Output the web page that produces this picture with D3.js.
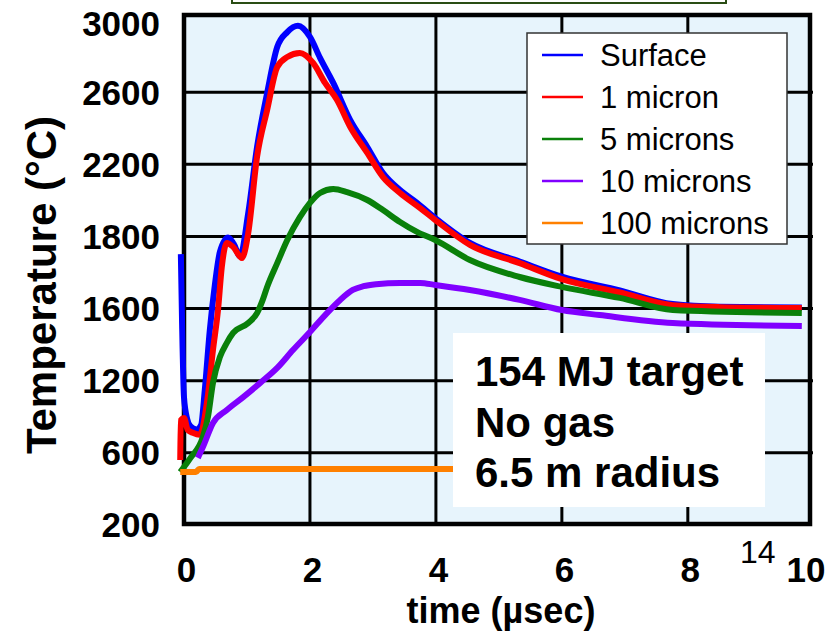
<!DOCTYPE html>
<html>
<head>
<meta charset="utf-8">
<script src="https://cdn.jsdelivr.net/npm/d3@7"></script>
<style>
  html, body { margin: 0; padding: 0; background: #ffffff; }
  svg { display: block; }
  text { font-family: "Liberation Sans", Arial, Helvetica, sans-serif; }
</style>
</head>
<body>
<svg id="chart" width="838" height="632"></svg>
<script>
// ---------------- data ----------------
const xTickValues = [0, 2, 4, 6, 8, 10];
const xTickLabels = ["0", "2", "4", "6", "8", "10"];
const yTickValues = [200, 600, 1000, 1400, 1800, 2200, 2600, 3000];
const yTickLabels = ["200", "600", "1200", "1600", "1800", "2200", "2600", "3000"];

const seriesNames = ["Surface", "1 micron", "5 microns", "10 microns", "100 microns"];
const seriesColors = ["#0000ff", "#ff0000", "#0a800a", "#8000ff", "#ff8000"];

// [time (µsec), temperature (°C)]
const surface = [
  [-0.05, 1702], [-0.03, 1310], [0.0, 908], [0.05, 788], [0.1, 748], [0.2, 730], [0.27, 753],
  [0.33, 948], [0.41, 1281], [0.49, 1531], [0.57, 1714], [0.70, 1794], [0.79, 1758],
  [0.89, 1691], [1.02, 1930], [1.16, 2296], [1.32, 2595], [1.48, 2850], [1.64, 2933],
  [1.81, 2968], [2.0, 2906], [2.16, 2790], [2.37, 2651], [2.64, 2445], [2.91, 2296],
  [3.16, 2151], [3.43, 2057], [3.70, 1986], [3.99, 1902], [4.54, 1764], [5.33, 1661],
  [6.0, 1577], [6.92, 1501], [7.76, 1425], [8.5, 1410], [9.81, 1406]
];
const micron1 = [
  [-0.06, 560], [-0.05, 782], [0.0, 793], [0.06, 727], [0.14, 711], [0.25, 700],
  [0.37, 893], [0.46, 1170], [0.54, 1392], [0.60, 1630], [0.68, 1764], [0.78, 1742],
  [0.92, 1680], [1.02, 1819], [1.16, 2241], [1.32, 2501], [1.48, 2739], [1.64, 2795],
  [1.84, 2817], [2.05, 2762], [2.24, 2651], [2.43, 2557], [2.64, 2407], [2.91, 2263],
  [3.16, 2129], [3.43, 2041], [3.75, 1957], [3.99, 1891], [4.54, 1753], [5.33, 1652],
  [6.0, 1563], [6.92, 1489], [7.76, 1419], [8.5, 1408], [9.81, 1403]
];
const microns5 = [
  [-0.06, 494], [0.1, 571], [0.3, 688], [0.38, 799], [0.46, 988], [0.57, 1131],
  [0.68, 1210], [0.78, 1265], [1.02, 1320], [1.16, 1375], [1.25, 1448], [1.32, 1520],
  [1.48, 1652], [1.64, 1780], [1.84, 1907], [2.0, 1986], [2.16, 2041], [2.37, 2063],
  [2.59, 2046], [2.91, 2002], [3.16, 1946], [3.43, 1880], [3.70, 1825], [3.99, 1780],
  [4.54, 1669], [5.33, 1575], [6.0, 1520], [6.92, 1459], [7.76, 1392], [9.81, 1375]
];
const microns10 = [
  [0.22, 572], [0.30, 632], [0.46, 766], [0.68, 838], [0.94, 909], [1.21, 988],
  [1.48, 1071], [1.73, 1170], [2.0, 1270], [2.27, 1375], [2.48, 1448], [2.68, 1503],
  [2.85, 1524], [3.05, 1535], [3.43, 1542], [3.75, 1542], [3.99, 1531], [4.54, 1503],
  [5.33, 1448], [6.0, 1392], [6.6, 1364], [7.76, 1320], [9.81, 1303]
];
const microns100 = [
  [-0.06, 494], [0.19, 494], [0.24, 511], [7.0, 511]
];
const allSeries = [surface, micron1, microns5, microns10, microns100];

// ---------------- layout ----------------
const svg = d3.select("#chart");
const pLeft = 184, pRight = 810, pTop = 15, pBottom = 524;

const x = d3.scaleLinear().domain([0, 9.94]).range([pLeft, pRight]);
const y = d3.scaleLinear().domain([200, 3000]).range([525, 20]);

// top partial box
svg.append("rect")
  .attr("x", 232).attr("y", -20).attr("width", 494).attr("height", 23)
  .attr("fill", "#ffffff").attr("stroke", "#2a4d14").attr("stroke-width", 2);

// plot background
svg.append("rect")
  .attr("x", pLeft).attr("y", pTop).attr("width", pRight - pLeft).attr("height", pBottom - pTop)
  .attr("fill", "#e7f4fc");

// gridlines
const grid = svg.append("g");
grid.selectAll("line.v")
  .data(xTickValues.filter(v => v > 0 && v < 10))
  .join("line")
  .attr("class", "v")
  .attr("x1", d => x(d)).attr("x2", d => x(d))
  .attr("y1", pTop).attr("y2", pBottom)
  .attr("stroke", "#000").attr("stroke-width", 3);
grid.selectAll("line.h")
  .data(yTickValues.filter(v => v > 200 && v < 3000))
  .join("line")
  .attr("class", "h")
  .attr("x1", pLeft).attr("x2", pRight + 3)
  .attr("y1", d => y(d)).attr("y2", d => y(d))
  .attr("stroke", "#000").attr("stroke-width", 3);

// frame
svg.append("rect")
  .attr("x", pLeft).attr("y", pTop).attr("width", pRight - pLeft).attr("height", pBottom - pTop)
  .attr("fill", "none").attr("stroke", "#000").attr("stroke-width", 4.5);

// axes (labels only)
const yAxis = d3.axisLeft(y)
  .tickValues(yTickValues)
  .tickFormat((d, i) => yTickLabels[i])
  .tickSize(0).tickPadding(24);
const gy = svg.append("g").attr("transform", `translate(${pLeft},0)`).call(yAxis);
gy.select(".domain").remove();
gy.selectAll("text")
  .attr("dy", d => d === 3000 ? "0.45em" : "0.34em")
  .attr("font-size", 35).attr("font-weight", "bold").attr("fill", "#000")
  .attr("font-family", "Liberation Sans, Arial, sans-serif");

const xAxis = d3.axisBottom(x)
  .tickValues(xTickValues)
  .tickFormat((d, i) => xTickLabels[i])
  .tickSize(0).tickPadding(0);
const gx = svg.append("g").attr("transform", `translate(0,${pBottom})`).call(xAxis);
gx.select(".domain").remove();
gx.selectAll(".tick").attr("transform", d => `translate(${d >= 10 ? pRight - 4 : x(d) + 2.5},0)`);
gx.selectAll("text")
  .attr("y", 58).attr("dy", null)
  .attr("font-size", 35).attr("font-weight", "bold").attr("fill", "#000")
  .attr("font-family", "Liberation Sans, Arial, sans-serif");

// axis titles
svg.append("text")
  .attr("x", 501).attr("y", 623)
  .attr("text-anchor", "middle")
  .attr("font-size", 36).attr("font-weight", "bold")
  .text("time (\u00b5sec)");
svg.append("text")
  .attr("transform", "translate(56,285) rotate(-90)")
  .attr("text-anchor", "middle")
  .attr("font-size", 42).attr("font-weight", "bold")
  .text("Temperature (\u00b0C)");

// slide number artefact
svg.append("text")
  .attr("x", 740).attr("y", 563)
  .attr("font-size", 32)
  .text("14");

// lines
const line = d3.line()
  .x(d => x(d[0])).y(d => y(d[1]))
  .curve(d3.curveMonotoneX);
svg.append("g").selectAll("path")
  .data(allSeries)
  .join("path")
  .attr("d", d => line(d))
  .attr("fill", "none")
  .attr("stroke", (d, i) => seriesColors[i])
  .attr("stroke-width", 6)
  .attr("stroke-linejoin", "round")
  .attr("stroke-linecap", "butt");

// legend
const lg = svg.append("g");
lg.append("rect")
  .attr("x", 527).attr("y", 33).attr("width", 260).attr("height", 211)
  .attr("fill", "#ffffff").attr("stroke", "#333").attr("stroke-width", 1.5);
const rows = lg.selectAll("g.row")
  .data(seriesNames)
  .join("g")
  .attr("class", "row")
  .attr("transform", (d, i) => `translate(0,${55 + i * 42})`);
rows.append("line")
  .attr("x1", 542).attr("x2", 583).attr("y1", 0).attr("y2", 0)
  .attr("stroke", (d, i) => seriesColors[i]).attr("stroke-width", 2.5);
rows.append("text")
  .attr("x", 600).attr("y", 11)
  .attr("font-size", 31).attr("fill", "#000")
  .text(d => d);

// annotation box
const ann = svg.append("g");
ann.append("rect")
  .attr("x", 453).attr("y", 333).attr("width", 312).attr("height", 174)
  .attr("fill", "#ffffff");
const annLines = ["154 MJ target", "No gas", "6.5 m radius"];
ann.selectAll("text")
  .data(annLines)
  .join("text")
  .attr("x", 475).attr("y", (d, i) => 386 + i * 50.5)
  .attr("font-size", 42).attr("font-weight", "bold")
  .text(d => d);
</script>
</body>
</html>
